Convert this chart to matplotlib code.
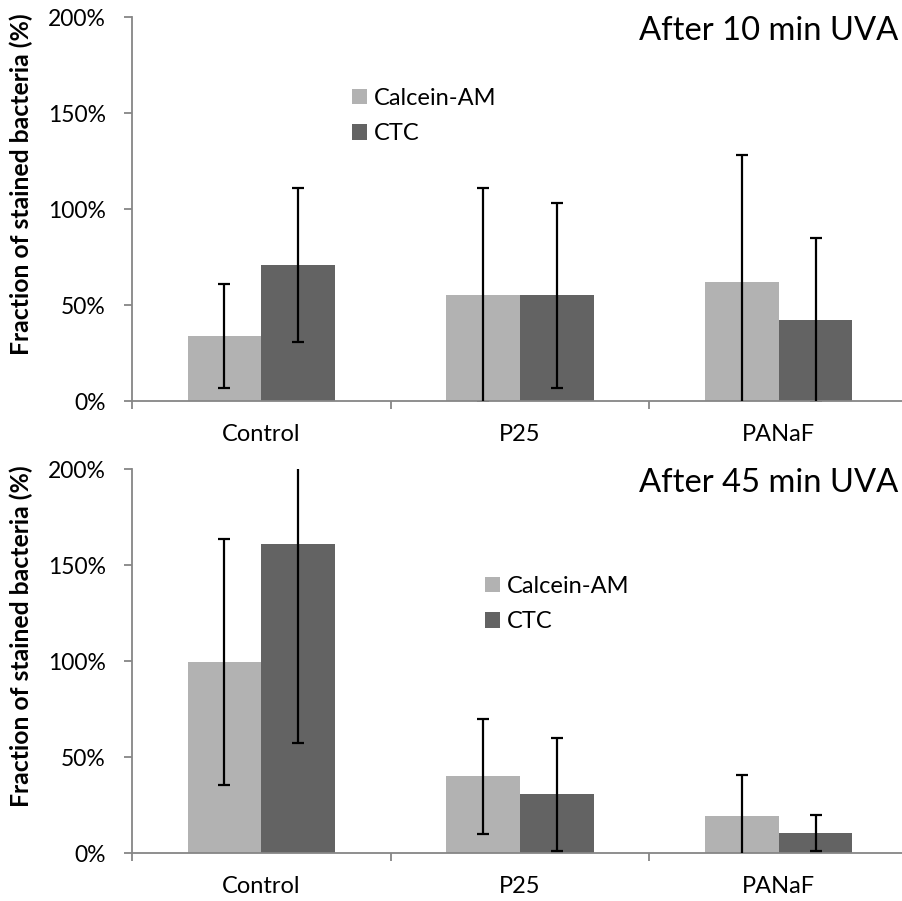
import numpy as np
import matplotlib
matplotlib.use("Agg")
import matplotlib.pyplot as plt
from matplotlib.ticker import PercentFormatter

plt.rcParams['font.family'] = ['Lato', 'DejaVu Sans']

groups = ["Control", "P25", "PANaF"]
series = ["Calcein-AM", "CTC"]

# After 10 min UVA (percent)
calc10 = [34, 55, 62]
calc10_err = [27, 56, 66]
ctc10 = [71, 55, 42]
ctc10_err = [40, 48, 43]

# After 45 min UVA (percent)
calc45 = [99.5, 40, 19.5]
calc45_err = [64, 30, 21]
ctc45 = [161, 30.5, 10.5]
ctc45_err = [103.5, 29.5, 9.5]

titles = ["After 10 min UVA", "After 45 min UVA"]

light = "#b2b2b2"
dark = "#636363"
axis_col = "#868686"

W, H = 903, 901
fig = plt.figure(figsize=(W / 100, H / 100), dpi=100)

# axes top/bottom in pixels, legend anchor (left, top) in pixels
panels = [
    (calc10, calc10_err, ctc10, ctc10_err, 17.3, 401, (352, 88)),
    (calc45, calc45_err, ctc45, ctc45_err, 469.3, 853, (485, 576)),
]

x = np.arange(len(groups))
bw = 0.285
left_px = 132
cat_px = 258.7

for i, (c, ce, t, te, top_px, bot_px, leg) in enumerate(panels):
    ax = fig.add_axes([left_px / W, 1 - bot_px / H, 3 * cat_px / W, (bot_px - top_px) / H])
    b1 = ax.bar(x - bw / 2, c, bw, color=light, label=series[0], zorder=2)
    b2 = ax.bar(x + bw / 2, t, bw, color=dark, label=series[1], zorder=2)
    ax.errorbar(x - bw / 2, c, yerr=ce, fmt="none", ecolor="black", elinewidth=1.6,
                capsize=4.2, capthick=1.6, zorder=3)
    ax.errorbar(x + bw / 2, t, yerr=te, fmt="none", ecolor="black", elinewidth=1.6,
                capsize=4.2, capthick=1.6, zorder=3)
    ax.set_xlim(-0.5, 2.5)
    ax.set_ylim(0, 200)
    ax.set_yticks([0, 50, 100, 150, 200])
    ax.yaxis.set_major_formatter(PercentFormatter(decimals=0))
    ax.set_xticks(x)
    ax.set_xticklabels(groups)
    ax.set_xticks([-0.5, 0.5, 1.5, 2.5], minor=True)
    ax.tick_params(axis="x", which="major", length=0, pad=16.5, labelsize=17)
    ax.tick_params(axis="x", which="minor", length=6, color=axis_col, width=1.3)
    ax.tick_params(axis="y", length=6, color=axis_col, width=1.3, labelsize=16.5, pad=13)
    for s in ["top", "right"]:
        ax.spines[s].set_visible(False)
    for s in ["left", "bottom"]:
        ax.spines[s].set_color(axis_col)
        ax.spines[s].set_linewidth(1.3)
    ax.set_ylabel("Fraction of stained bacteria (%)", fontsize=17.8, fontweight="bold")
    ax.yaxis.set_label_coords(-0.1276, 0.565)
    ax.text(898 / W, 1 - (top_px + 23) / H, titles[i], transform=fig.transFigure,
            ha="right", va="baseline", fontsize=23.6)
    ax.legend(handles=[b1, b2], loc="upper left",
              bbox_to_anchor=(leg[0] / W, 1 - leg[1] / H),
              bbox_transform=fig.transFigure, frameon=False, fontsize=17,
              handlelength=0.635, handleheight=0.635, handletextpad=0.3,
              labelspacing=0.6, borderpad=0, borderaxespad=0)

fig.savefig("out.png", dpi=100)
